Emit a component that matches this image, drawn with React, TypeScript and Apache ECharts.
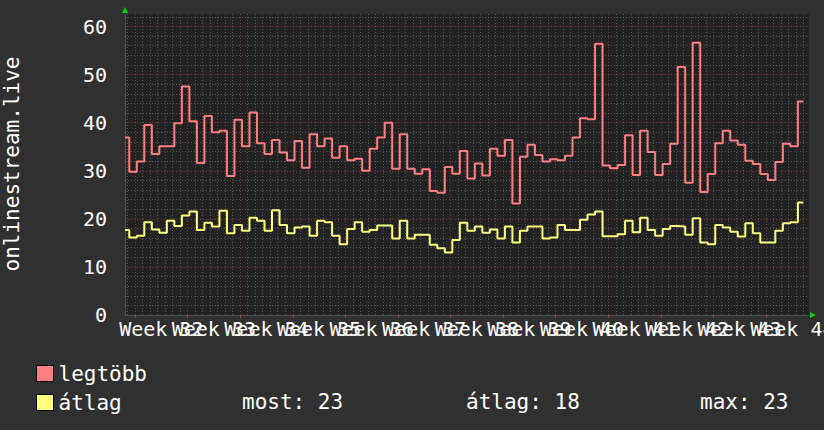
import React, { useEffect, useRef } from "react";
import * as echarts from "echarts";

// ---- data ----
const seriesNames = ["legtöbb", "átlag"];
const maxValues = [
  36.9, 29.8, 31.9, 39.5, 33.5, 35.1, 35.1, 39.9, 47.5, 40.3,
  31.6, 41.4, 38.0, 38.3, 28.9, 40.6, 35.1, 42.1, 35.7, 33.5,
  36.4, 33.8, 32.2, 36.2, 30.6, 37.6, 35.1, 36.7, 32.7, 35.1,
  32.2, 32.5, 30.0, 34.6, 36.9, 40.0, 30.4, 37.6, 30.4, 29.4,
  30.3, 25.8, 25.4, 30.8, 29.4, 34.1, 28.4, 31.5, 29.0, 34.6,
  33.1, 36.4, 23.2, 32.9, 35.4, 33.3, 31.9, 32.4, 32.2, 33.1,
  36.9, 40.9, 40.7, 56.4, 31.1, 30.5, 31.2, 37.4, 29.1, 38.3,
  33.9, 29.1, 31.4, 35.6, 51.6, 27.5, 56.6, 25.6, 29.3, 35.7,
  38.3, 36.3, 35.4, 32.1, 31.4, 29.3, 28.1, 31.8, 35.6, 35.1,
  44.4,
];
const avgValues = [
  17.7, 16.1, 16.5, 19.3, 17.8, 17.1, 19.6, 18.5, 20.7, 21.5,
  17.7, 19.2, 18.4, 21.7, 17.0, 18.7, 17.5, 20.2, 19.6, 17.5,
  21.8, 18.7, 17.0, 18.2, 18.4, 16.5, 19.6, 19.3, 16.5, 14.7,
  17.9, 19.3, 17.3, 17.7, 18.6, 18.6, 15.9, 19.6, 15.9, 16.7,
  16.7, 14.6, 13.9, 13.0, 15.6, 19.2, 17.5, 18.4, 17.1, 17.8,
  15.9, 18.4, 15.1, 17.5, 18.4, 18.4, 15.9, 16.1, 18.7, 17.7,
  17.7, 19.8, 20.9, 21.5, 16.4, 16.4, 16.8, 19.6, 17.2, 20.2,
  17.7, 16.5, 17.9, 18.5, 18.4, 16.7, 20.1, 15.1, 14.7, 18.7,
  18.2, 17.3, 16.3, 19.1, 17.0, 15.1, 15.1, 17.5, 19.1, 19.3,
  23.4,
];
const weekNumbers = [32, 33, 34, 35, 36, 37, 38, 39, 40, 41, 42, 43, 44];
const yTickLabels = [0, 10, 20, 30, 40, 50, 60];
const statLabels = ["most", "átlag", "max"];
const yAxisTitle = "onlinestream.live";

// time axis (days from the left edge of the graph)
const firstStepEnd = 0.57;
const lastStepEnd = 90.29;
const firstWeekStart = 1.33;
const xMax = 91.05;
const yMax = 62.6;

const FONT = "DejaVu Sans Mono";
const RED = "#ff7f7f";
const YELLOW = "#ffff7f";

const stepTimes = maxValues.map((_, i) => (i === 0 ? 0 : firstStepEnd + i - 1));
const stepData = (vals: number[]) => {
  const d = vals.map((v, i) => [stepTimes[i], v]);
  d.push([lastStepEnd, vals[vals.length - 1]]);
  return d;
};
const weekStarts = weekNumbers.map((_, i) => firstWeekStart + 7 * i);
const weekMids = weekNumbers.map((_, i) => firstWeekStart + 3.5 + 7 * i);
const dayLines: number[] = [];
for (let d = firstWeekStart - 1; d < xMax; d += 1) dayLines.push(d);
const yMinor: number[] = [];
for (let v = 2; v < yMax; v += 2) if (v % 10 !== 0) yMinor.push(v);
const yMajor = yTickLabels.filter((v) => v > 0);

const lastAvg = avgValues[avgValues.length - 1];
const meanAvg = avgValues.reduce((a, b) => a + b, 0) / avgValues.length;
const maxAvg = Math.max(...avgValues);
const statValues = [lastAvg, meanAvg, maxAvg].map((v) => Math.round(v));

const weekLabel = (v: number) => {
  const i = weekMids.findIndex((m) => Math.abs(m - v) < 0.01);
  return i >= 0 ? "Week " + weekNumbers[i] : "";
};

export default function App() {
  const ref = useRef<HTMLDivElement>(null);
  useEffect(() => {
    if (!ref.current) return;
    const chart = echarts.init(ref.current, null, { renderer: "svg" });
    const minorStyle = { color: "rgba(140,140,140,0.5)", type: [1, 2], width: 1 };
    const majorStyle = { color: "rgba(190,70,70,0.6)", type: [1, 2], width: 1 };
    const gridLines = [
      ...dayLines
        .filter((d) => !weekStarts.some((w) => Math.abs(w - d) < 0.01))
        .map((d) => ({ xAxis: d, lineStyle: minorStyle })),
      ...weekStarts.map((d) => ({ xAxis: d, lineStyle: majorStyle })),
      ...yMinor.map((v) => ({ yAxis: v, lineStyle: minorStyle })),
      ...yMajor.map((v) => ({ yAxis: v, lineStyle: majorStyle })),
    ];
    const labelAxis = (vals: number[], primary: boolean) => ({
      type: "value",
      position: "bottom",
      offset: 0,
      min: 0,
      max: xMax,
      axisLine: { show: primary, lineStyle: { color: "#505050" } },
      axisTick: {
        show: primary,
        customValues: weekStarts,
        length: 3,
        lineStyle: { color: "#a04040" },
      },
      axisLabel: {
        customValues: vals,
        color: "#ffffff",
        fontFamily: FONT,
        fontSize: 20,
        margin: 4,
        hideOverlap: false,
        showMinLabel: true,
        showMaxLabel: true,
        formatter: weekLabel,
      },
      splitLine: { show: false },
    });
    chart.setOption({
      animation: false,
      backgroundColor: "#303030",
      grid: {
        left: 125,
        right: 15,
        top: 14,
        bottom: 115,
        show: true,
        backgroundColor: "#222222",
        borderWidth: 0,
        containLabel: false,
        outerBoundsMode: "none",
      },
      legend: {
        orient: "vertical",
        left: 31,
        top: 358,
        itemWidth: 17,
        itemHeight: 16,
        itemGap: 8,
        icon: "rect",
        selectedMode: false,
        textStyle: { color: "#ffffff", fontFamily: FONT, fontSize: 21 },
        data: seriesNames.map((n) => ({
          name: n,
          icon: "rect",
          itemStyle: { borderColor: "#000000", borderWidth: 1 },
        })),
      },
      xAxis: [
        labelAxis(weekMids.filter((_, i) => i % 2 === 0), true),
        labelAxis(weekMids.filter((_, i) => i % 2 === 1), false),
      ],
      yAxis: {
        type: "value",
        min: 0,
        max: yMax,
        interval: 10,
        axisLine: { show: true, lineStyle: { color: "#505050" } },
        axisTick: { show: false },
        axisLabel: {
          color: "#ffffff",
          fontFamily: FONT,
          fontSize: 20,
          margin: 18,
          showMaxLabel: false,
          formatter: (v: number) => (yTickLabels.includes(v) ? String(v) : ""),
        },
        splitLine: { show: false },
      },
      graphic: [
        {
          type: "text",
          x: 12,
          y: 164,
          rotation: Math.PI / 2,
          style: {
            text: yAxisTitle,
            fill: "#ffffff",
            font: `21px "${FONT}"`,
            textAlign: "center",
            textVerticalAlign: "middle",
          },
        },
        {
          type: "polygon",
          shape: { points: [[122, 13], [128, 13], [125, 7]] },
          style: { fill: "#00d000" },
        },
        {
          type: "polygon",
          shape: { points: [[810, 312], [810, 318], [816, 315]] },
          style: { fill: "#00d000" },
        },
        ...statLabels.map((s, i) => ({
          type: "text",
          x: [242, 466, 700][i],
          y: 402,
          style: {
            text: `${s}: ${statValues[i]}`,
            fill: "#ffffff",
            font: `21px "${FONT}"`,
            textAlign: "left",
            textVerticalAlign: "middle",
          },
        })),
      ],
      series: [
        {
          type: "line",
          data: [],
          silent: true,
          markLine: {
            silent: true,
            z: 1,
            symbol: ["none", "none"],
            label: { show: false },
            emphasis: { disabled: true },
            animation: false,
            data: gridLines,
          },
        },
        {
          name: seriesNames[0],
          type: "line",
          step: "end",
          symbol: "none",
          z: 3,
          data: stepData(maxValues),
          lineStyle: { color: RED, width: 2 },
          itemStyle: { color: "#ff8080" },
        },
        {
          name: seriesNames[1],
          type: "line",
          step: "end",
          symbol: "none",
          z: 3,
          data: stepData(avgValues),
          lineStyle: { color: YELLOW, width: 2 },
          itemStyle: { color: "#ffff80" },
        },
      ],
    });
    return () => chart.dispose();
  }, []);
  return (
    <div
      ref={ref}
      style={{ position: "fixed", left: 0, top: 0, width: 824, height: 430, background: "#303030" }}
    />
  );
}
